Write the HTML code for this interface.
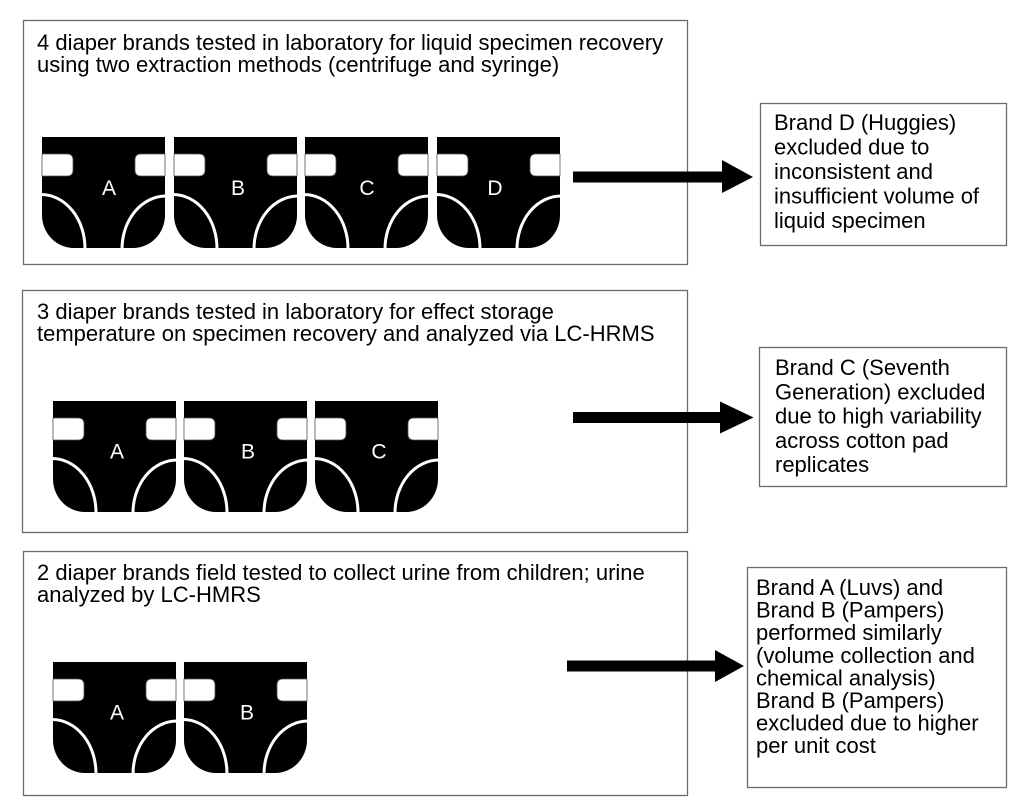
<!DOCTYPE html>
<html>
<head>
<meta charset="utf-8">
<style>
  html, body { margin: 0; padding: 0; background: #ffffff; }
  body { width: 1023px; height: 807px; overflow: hidden; }
  svg { display: block; }
  text { font-family: "Liberation Sans", Arial, sans-serif; }
</style>
</head>
<body>
<svg width="1023" height="807" viewBox="0 0 1023 807" xmlns="http://www.w3.org/2000/svg">
  <defs>
    <g id="diaper">
      <path d="M0,0 H123 V78 A32,33 0 0 1 91,111 H32 A32,33 0 0 1 0,78 Z" fill="#000"/>
      <path d="M0,17 H25 Q31,17 31,23 V33 Q31,39 25,39 H0 Z" fill="#fff" stroke="#555" stroke-width="0.8"/>
      <path d="M123,17 H99 Q93,17 93,23 V33 Q93,39 99,39 H123 Z" fill="#fff" stroke="#555" stroke-width="0.8"/>
      <path d="M-1,57.5 A44,54 0 0 1 43,112" fill="none" stroke="#fff" stroke-width="3"/>
      <path d="M124,59 A44,53 0 0 0 80,112" fill="none" stroke="#fff" stroke-width="3"/>
    </g>
  </defs>

  <!-- Box 1 -->
  <rect x="23.5" y="20.5" width="664" height="244" fill="none" stroke="#6b6b6b" stroke-width="1.3"/>
  <text x="37" y="50" font-size="22" fill="#000">4 diaper brands tested in laboratory for liquid specimen recovery</text>
  <text x="37" y="72" font-size="22" fill="#000">using two extraction methods (centrifuge and syringe)</text>

  <use href="#diaper" x="42" y="137"/>
  <use href="#diaper" x="174" y="137"/>
  <use href="#diaper" x="305" y="137"/>
  <use href="#diaper" x="437" y="137"/>
  <text x="109" y="195" font-size="21" fill="#fff" text-anchor="middle">A</text>
  <text x="238" y="195" font-size="21" fill="#fff" text-anchor="middle">B</text>
  <text x="367" y="195" font-size="21" fill="#fff" text-anchor="middle">C</text>
  <text x="495" y="195" font-size="21" fill="#fff" text-anchor="middle">D</text>

  <!-- Arrow 1 -->
  <rect x="573" y="171.5" width="150" height="11" fill="#000"/>
  <polygon points="722,160 753,177 722,193" fill="#000"/>

  <!-- Brand D box -->
  <rect x="760.5" y="103.5" width="246" height="142" fill="none" stroke="#6b6b6b" stroke-width="1.3"/>
  <text font-size="22" fill="#000">
    <tspan x="774" y="130">Brand D (Huggies)</tspan>
    <tspan x="774" y="154.5">excluded due to</tspan>
    <tspan x="774" y="179">inconsistent and</tspan>
    <tspan x="774" y="203.5">insufficient volume of</tspan>
    <tspan x="774" y="228">liquid specimen</tspan>
  </text>

  <!-- Box 2 -->
  <rect x="22.5" y="290.5" width="665" height="242" fill="none" stroke="#6b6b6b" stroke-width="1.3"/>
  <text x="37" y="319" font-size="22" fill="#000">3 diaper brands tested in laboratory for effect storage</text>
  <text x="37" y="341" font-size="22" fill="#000">temperature on specimen recovery and analyzed via LC-HRMS</text>

  <use href="#diaper" x="53" y="401"/>
  <use href="#diaper" x="184" y="401"/>
  <use href="#diaper" x="315" y="401"/>
  <text x="117" y="458.5" font-size="21" fill="#fff" text-anchor="middle">A</text>
  <text x="248" y="458.5" font-size="21" fill="#fff" text-anchor="middle">B</text>
  <text x="379" y="458.5" font-size="21" fill="#fff" text-anchor="middle">C</text>

  <!-- Arrow 2 -->
  <rect x="573" y="412" width="148" height="11" fill="#000"/>
  <polygon points="720,401.5 753.5,417.5 720,433.5" fill="#000"/>

  <!-- Brand C box -->
  <rect x="759.5" y="347.5" width="247" height="139" fill="none" stroke="#6b6b6b" stroke-width="1.3"/>
  <text font-size="22" fill="#000">
    <tspan x="775" y="375">Brand C (Seventh</tspan>
    <tspan x="775" y="399.3">Generation) excluded</tspan>
    <tspan x="775" y="423.6">due to high variability</tspan>
    <tspan x="775" y="447.9">across cotton pad</tspan>
    <tspan x="775" y="472.2">replicates</tspan>
  </text>

  <!-- Box 3 -->
  <rect x="23.5" y="551.5" width="664" height="244" fill="none" stroke="#6b6b6b" stroke-width="1.3"/>
  <text x="37" y="580" font-size="22" fill="#000">2 diaper brands field tested to collect urine from children; urine</text>
  <text x="37" y="602" font-size="22" fill="#000">analyzed by LC-HMRS</text>

  <use href="#diaper" x="53" y="662"/>
  <use href="#diaper" x="184" y="662"/>
  <text x="117" y="719.5" font-size="21" fill="#fff" text-anchor="middle">A</text>
  <text x="247" y="719.5" font-size="21" fill="#fff" text-anchor="middle">B</text>

  <!-- Arrow 3 -->
  <rect x="567" y="660.5" width="149" height="11" fill="#000"/>
  <polygon points="715,650 744,666 715,682" fill="#000"/>

  <!-- Brand A/B box -->
  <rect x="747.5" y="567.5" width="259" height="220" fill="none" stroke="#6b6b6b" stroke-width="1.3"/>
  <text font-size="22" fill="#000">
    <tspan x="756" y="595">Brand A (Luvs) and</tspan>
    <tspan x="756" y="617.6">Brand B (Pampers)</tspan>
    <tspan x="756" y="640.2">performed similarly</tspan>
    <tspan x="756" y="662.8">(volume collection and</tspan>
    <tspan x="756" y="685.4">chemical analysis)</tspan>
    <tspan x="756" y="708">Brand B (Pampers)</tspan>
    <tspan x="756" y="730.6">excluded due to higher</tspan>
    <tspan x="756" y="753.2">per unit cost</tspan>
  </text>
</svg>
</body>
</html>
